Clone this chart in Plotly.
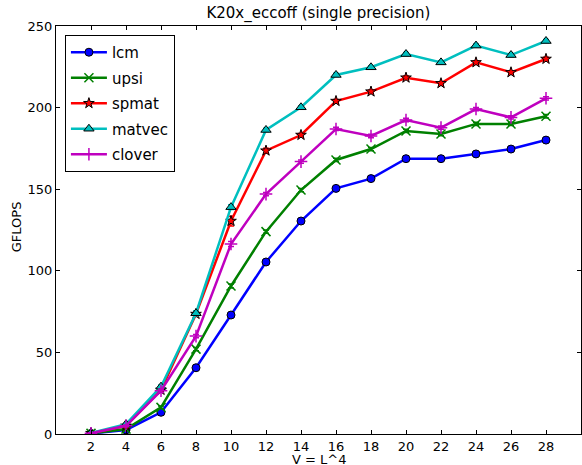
import plotly.graph_objects as go

V = [2, 4, 6, 8, 10, 12, 14, 16, 18, 20, 22, 24, 26, 28]
lcm = [0.3, 2.5, 13.3, 40.6, 72.9, 105.4, 130.5, 150.5, 156.5, 168.7, 168.7, 171.6, 174.6, 180.1]
upsi = [0.4, 3.0, 16.3, 52.0, 90.7, 124.0, 149.5, 167.9, 174.6, 185.7, 183.8, 190.0, 190.0, 194.7]
spmat = [0.5, 5.0, 27.0, 73.5, 130.5, 173.6, 183.2, 204.0, 209.8, 218.3, 214.9, 227.7, 221.6, 229.8]
matvec = [0.6, 6.0, 29.0, 74.0, 139.0, 186.3, 200.2, 220.0, 224.7, 232.8, 227.7, 238.0, 232.2, 240.8]
clover = [0.5, 5.0, 26.5, 60.0, 116.4, 147.0, 166.9, 186.9, 182.6, 192.4, 187.7, 199.1, 194.0, 205.7]
err_lcm = [0.2, 0.5, 0.8, 1.0, 1.0, 1.0, 1.0, 1.0, 1.0, 1.0, 1.0, 1.0, 1.0, 1.0]
err_upsi = [0.2, 0.5, 0.8, 1.0, 1.2, 1.0, 1.0, 1.0, 1.0, 1.0, 1.0, 1.0, 1.0, 1.0]
err_spmat = [0.2, 0.5, 1.0, 1.5, 3.0, 1.5, 1.0, 1.0, 1.0, 1.0, 1.0, 1.0, 1.0, 1.0]
err_matvec = [0.2, 0.5, 1.0, 1.5, 1.5, 1.0, 1.0, 1.0, 1.0, 1.0, 1.0, 1.0, 1.0, 1.0]
err_clover = [0.2, 0.5, 1.0, 1.0, 1.5, 1.0, 1.0, 1.0, 1.0, 1.0, 1.0, 1.0, 1.0, 1.0]
x_ticks = [2, 4, 6, 8, 10, 12, 14, 16, 18, 20, 22, 24, 26, 28]
y_ticks = [0, 50, 100, 150, 200, 250]

series = [
    ("lcm", lcm, err_lcm, "#0000ff", "circle", "#000000", 8),
    ("upsi", upsi, err_upsi, "#008000", "x-thin-open", "#008000", 9),
    ("spmat", spmat, err_spmat, "#ff0000", "star", "#000000", 8),
    ("matvec", matvec, err_matvec, "#00bfbf", "triangle-up", "#000000", 9),
    ("clover", clover, err_clover, "#bf00bf", "cross-thin-open", "#bf00bf", 9),
]

fig = go.Figure()
for name, vals, errs, color, sym, edge, size in series:
    fig.add_trace(go.Scatter(
        x=V, y=vals, name=name, mode="lines+markers", legendgroup=name,
        line=dict(color=color, width=2.5),
        marker=dict(symbol=sym, size=size, color=color,
                    line=dict(color=edge, width=1 if edge == "#000000" else 1.5)),
        error_y=dict(type="data", array=errs, visible=True, color=color,
                     thickness=1.5, width=3),
    ))

axis_common = dict(
    showgrid=False, zeroline=False, showline=True, linecolor="black",
    linewidth=1, mirror="ticks", ticks="inside", ticklen=4, tickcolor="black",
    tickfont=dict(family="DejaVu Sans", size=13, color="black"),
    automargin=False,
)

fig.update_layout(
    width=582, height=465,
    margin=dict(l=56, r=1, t=26, b=31),
    paper_bgcolor="white", plot_bgcolor="white",
    font=dict(family="DejaVu Sans", color="black"),
    title=dict(text="K20x_eccoff (single precision)", x=0.547, xanchor="center",
               y=0.972, yanchor="middle", font=dict(size=15, family="DejaVu Sans")),
    xaxis=dict(range=[0, 30], tickvals=x_ticks, ticktext=[str(t) for t in x_ticks],
               **axis_common),
    yaxis=dict(range=[0, 250], tickvals=y_ticks, **axis_common),
    legend=dict(x=0.017, y=0.978, xanchor="left", yanchor="top",
                bordercolor="black", borderwidth=1, bgcolor="white",
                font=dict(size=15, family="DejaVu Sans"), tracegroupgap=3,
                itemwidth=36),
    showlegend=True,
    annotations=[
        dict(text="V = L^4", xref="paper", yref="paper", x=0.5, y=-0.063,
             xanchor="center", yanchor="middle", showarrow=False,
             font=dict(size=13, family="DejaVu Sans", color="black")),
        dict(text="GFLOPS", xref="paper", yref="paper", x=-0.076, y=0.507,
             xanchor="center", yanchor="middle", showarrow=False, textangle=-90,
             font=dict(size=13, family="DejaVu Sans", color="black")),
    ],
)

fig.write_html("out.html")
